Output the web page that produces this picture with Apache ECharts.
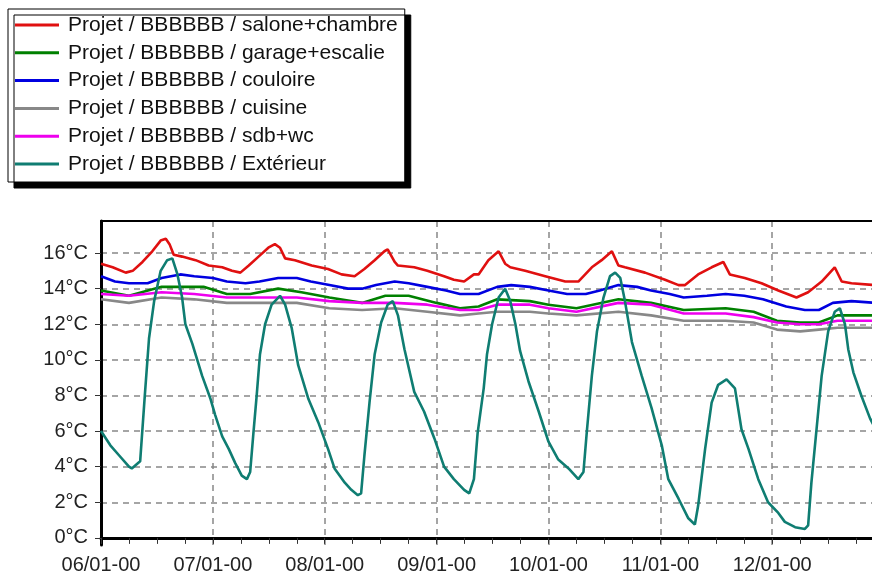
<!DOCTYPE html>
<html>
<head>
<meta charset="utf-8">
<script src="https://cdn.jsdelivr.net/npm/echarts@6/dist/echarts.min.js"></script>
<style>
  html, body { margin: 0; padding: 0; background: #fff; }
  #chart { width: 872px; height: 582px; }
</style>
</head>
<body>
<div id="chart"></div>
<script>
// hours counted from 06/01 00:00
var dayLabels = ['06/01-00', '07/01-00', '08/01-00', '09/01-00', '10/01-00', '11/01-00', '12/01-00'];

var names = [
    'Projet / BBBBBB / salone+chambre',
    'Projet / BBBBBB / garage+escalie',
    'Projet / BBBBBB / couloire',
    'Projet / BBBBBB / cuisine',
    'Projet / BBBBBB / sdb+wc',
    'Projet / BBBBBB / Extérieur'
];
var colors = ['#e01010', '#008000', '#0000e0', '#888888', '#ee00ee', '#0f7d72'];

var salonHours = [0,2.5,5.3,6.8,8.9,11,12.8,13.9,14.7,15.6,17.4,20.3,23.1,26,28.1,29.9,31.7,33.8,35.9,37.3,
    38.4,39.5,41.6,45.2,48.7,51.6,54.4,56.5,58.7,60.8,61.5,63,63.7,67.2,70,73.6,75.7,77.9,80,81,
    83.1,85.3,86.7,87.8,91,95.3,99.6,102.4,105.3,107.4,109.6,111,112.4,116.7,121,123.9,125.3,128.1,131,133.5,
    134.9,138.1,141.7,145.3,149.2,151.7,154.6,157.4,158.9,161,166];
var salonTemp = [15.4,15.2,14.9,15.0,15.5,16.1,16.7,16.8,16.5,15.9,15.8,15.6,15.3,15.2,15.0,14.9,15.3,15.8,16.3,16.5,
    16.3,15.7,15.6,15.3,15.1,14.8,14.7,15.1,15.6,16.1,16.2,15.5,15.3,15.2,15.0,14.7,14.5,14.4,14.8,14.8,
    15.6,16.1,15.4,15.2,15.0,14.7,14.4,14.4,15.2,15.6,16.1,15.3,15.2,14.9,14.5,14.2,14.2,14.8,15.2,15.5,
    14.8,14.6,14.3,13.9,13.5,13.8,14.4,15.2,14.4,14.3,14.2];

var garageHours = [0,6,13,17,22,27,32,38,43,49,56,61,66,72,77,81,85,92,96,102,111,118,125,134,140,145,150,154,158,166];
var garageTemp = [13.9,13.6,14.1,14.1,14.1,13.7,13.7,14.0,13.8,13.5,13.2,13.6,13.6,13.2,12.9,13.0,13.4,13.3,13.1,12.9,
    13.4,13.2,12.8,12.9,12.7,12.2,12.1,12.1,12.5,12.5];

var couloirHours = [0,3,6,10,13,17,20,24,27,31,34,38,42,45,49,53,56,59,63,66,70,74,77,81,85,88,92,96,100,104,
    107,111,115,118,122,125,130,134,138,142,147,151,154,157,161,166];
var couloirTemp = [14.7,14.4,14.3,14.3,14.6,14.8,14.7,14.6,14.4,14.3,14.4,14.6,14.6,14.4,14.2,14.0,14.0,14.2,14.4,14.3,
    14.1,13.9,13.7,13.7,14.1,14.2,14.1,13.9,13.7,13.7,13.9,14.2,14.1,13.9,13.7,13.5,13.6,13.7,13.6,13.4,
    13.0,12.8,12.8,13.2,13.3,13.2];

var roomHours = [0,6,13,20,27,35,42,49,56,63,70,77,81,85,92,96,102,111,118,125,134,140,145,150,154,158,166];
var cuisineTemp = [13.4,13.2,13.5,13.4,13.2,13.2,13.2,12.9,12.8,12.9,12.7,12.5,12.6,12.7,12.7,12.6,12.5,12.7,12.5,12.2,
    12.2,12.1,11.7,11.6,11.7,11.8,11.8];
var sdbTemp = [13.7,13.6,13.8,13.7,13.5,13.5,13.5,13.3,13.2,13.2,13.1,12.8,12.8,13.1,13.1,12.9,12.7,13.2,13.1,12.6,
    12.6,12.4,12.1,12.0,12.0,12.2,12.2];

var extHours = [0,2,4,6,6.6,8.4,9.4,10.3,11.4,12.8,14.2,15.3,16.4,17.4,18.1,19.6,21.7,23.5,24.5,26,
    27.4,28.8,30.2,31.3,32,32.7,33.4,34.1,35.2,36.6,38.4,39.5,40.9,42.3,44.5,46.6,48.7,50.1,52.3,53.7,
    55.1,55.8,56.5,57.6,58.7,60.1,61.5,62.6,63.7,65.1,67.2,69.3,71.5,73.6,75.7,77.9,79,80,80.8,82.1,
    82.8,83.9,85.3,86.7,87.8,88.9,89.9,91.7,93.9,96,98.1,100.3,102.4,103.5,104.2,105.3,106.4,107.8,109.2,110.3,
    111.4,112.4,113.9,116,118.1,120.3,121.7,123.9,126,127.4,128.1,129.6,131,132.4,134.2,136,137.4,138.9,141,143.1,
    145.3,146.7,148.9,151,151.7,152.4,153.5,154.6,156,157.4,158.5,159.6,160.3,161.4,163.1,165,166];
var extTemp = [6.0,5.2,4.6,4.0,3.9,4.3,8.0,11.2,13.3,15.0,15.6,15.7,14.8,13.5,12.0,10.9,9.1,7.8,6.9,5.7,
    5.0,4.2,3.5,3.3,3.7,5.9,8.0,10.3,12.0,13.1,13.6,13.1,11.8,9.7,7.8,6.5,5.0,3.9,3.1,2.7,
    2.4,2.5,4.6,7.6,10.3,12.1,13.1,13.3,12.5,10.6,8.2,7.1,5.6,4.0,3.3,2.7,2.5,3.3,5.9,8.4,
    10.3,12.0,13.5,14.0,13.3,12.0,10.5,8.8,7.1,5.4,4.4,3.9,3.3,3.7,5.9,9.1,11.6,13.5,14.7,14.9,
    14.6,13.3,11.0,9.1,7.3,5.2,3.3,2.2,1.1,0.75,1.8,5.0,7.6,8.6,8.9,8.4,6.1,5.0,3.3,2.0,
    1.4,0.9,0.6,0.5,0.7,3.1,6.1,9.1,11.6,12.7,12.9,12.0,10.6,9.3,8.0,6.7,6.2];

function zip(xs, ys) {
    return xs.map(function (x, i) { return [x, ys[i]]; });
}

var seriesData = [
    zip(salonHours, salonTemp),
    zip(garageHours, garageTemp),
    zip(couloirHours, couloirTemp),
    zip(roomHours, cuisineTemp),
    zip(roomHours, sdbTemp),
    zip(extHours, extTemp)
];

// the plot is cut by the right edge of the picture
var xMax = 165.4;

var font = "'Liberation Sans', Arial, sans-serif";
var chart = echarts.init(document.getElementById('chart'));

var option = {
    animation: false,
    color: colors,
    legend: {
        orient: 'vertical',
        left: 8,
        top: 9,
        padding: [5, 7, 7, 7],
        itemGap: 5.8,
        itemWidth: 44,
        itemHeight: 3,
        icon: 'rect',
        backgroundColor: '#fff',
        borderColor: '#000',
        borderWidth: 1,
        shadowColor: '#000',
        shadowBlur: 0,
        shadowOffsetX: 6,
        shadowOffsetY: 6,
        textStyle: {
            fontFamily: font,
            fontSize: 21,
            lineHeight: 22,
            color: '#111',
            padding: [0, 0, 0, 4]
        },
        data: names
    },
    grid: {
        left: 101,
        top: 221,
        right: 0,
        height: 324
    },
    xAxis: [{
        type: 'value',
        min: 0,
        max: xMax,
        interval: 24,
        axisLine: { lineStyle: { color: '#000', width: 3 } },
        axisTick: { show: true, length: 6, lineStyle: { color: '#333', width: 1 } },
        minorTick: { show: true, splitNumber: 4, length: 6, lineStyle: { color: '#333', width: 1 } },
        axisLabel: {
            fontFamily: font,
            fontSize: 20,
            color: '#222',
            margin: 10,
            showMaxLabel: false,
            formatter: function (v) { return dayLabels[v / 24] || ''; }
        },
        splitLine: {
            show: true,
            showMinLine: false,
            showMaxLine: false,
            lineStyle: { color: '#888', width: 1.5, type: [6, 5] }
        }
    }, {
        // top frame line only
        type: 'value',
        position: 'top',
        min: 0,
        max: xMax,
        axisLine: { show: true, lineStyle: { color: '#000', width: 2 } },
        axisTick: { show: false },
        axisLabel: { show: false },
        splitLine: { show: false }
    }],
    yAxis: {
        type: 'value',
        min: -0.4,
        max: 17.8,
        splitNumber: 9,
        minInterval: 2,
        maxInterval: 2,
        axisLine: { show: true, lineStyle: { color: '#000', width: 3 } },
        axisTick: { show: true, length: 6, lineStyle: { color: '#333', width: 1 } },
        axisLabel: {
            fontFamily: font,
            fontSize: 20,
            color: '#222',
            margin: 13,
            showMinLabel: false,
            showMaxLabel: false,
            formatter: function (v) { return (Math.round(v) % 2 === 0 && Math.abs(v - Math.round(v)) < 1e-6) ? v + '°C' : ''; }
        },
        splitLine: {
            show: true,
            showMinLine: false,
            showMaxLine: false,
            lineStyle: { color: '#888', width: 1.5, type: [6, 5] }
        }
    },
    series: names.map(function (n, i) {
        return {
            name: n,
            type: 'line',
            xAxisIndex: 0,
            data: seriesData[i],
            showSymbol: false,
            symbol: 'none',
            lineStyle: { width: 2.6, color: colors[i] },
            itemStyle: { color: colors[i] },
            clip: true
        };
    })
};

chart.setOption(option);
</script>
</body>
</html>
